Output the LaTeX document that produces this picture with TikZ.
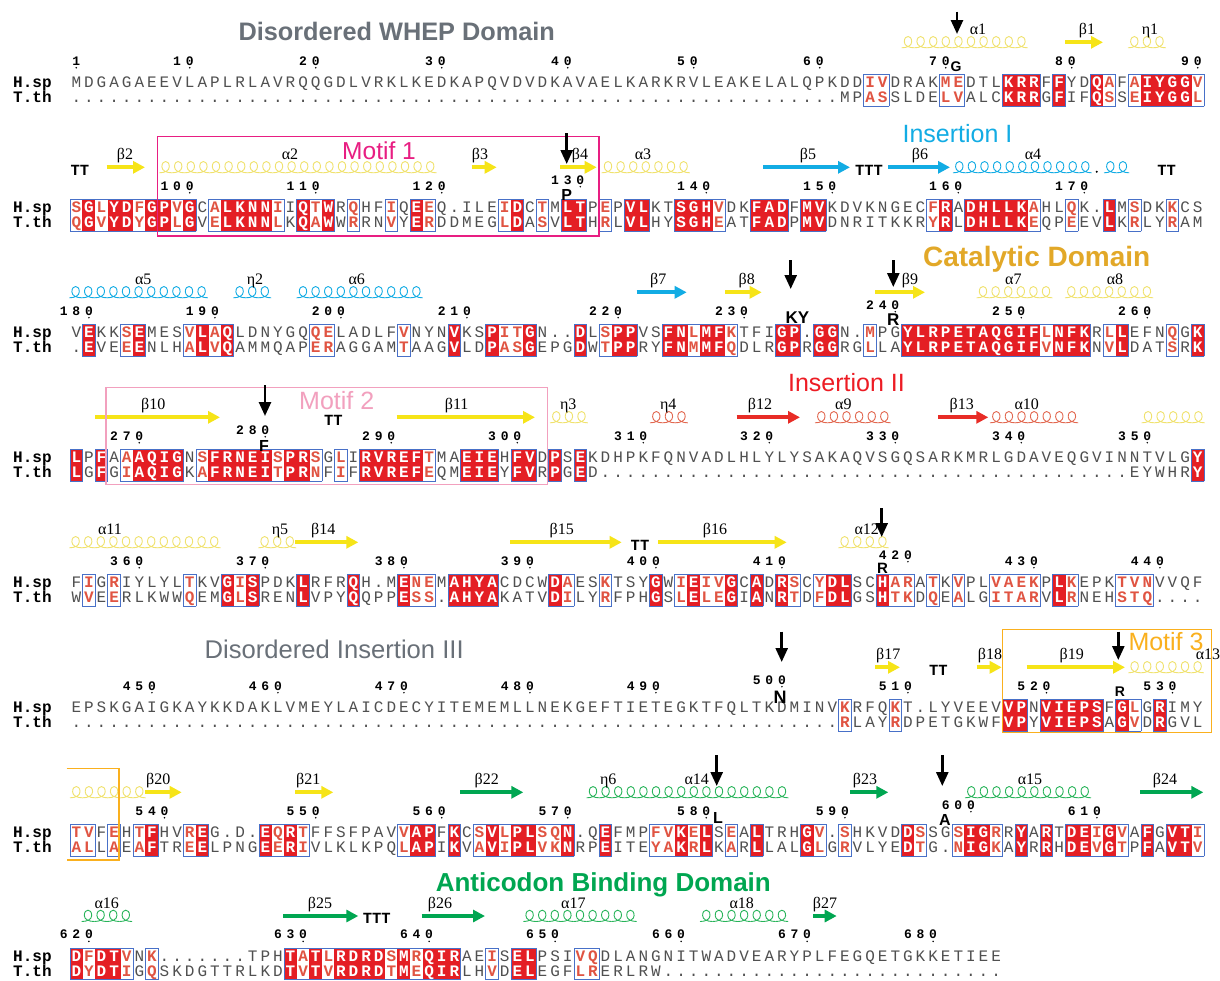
\documentclass[tikz,border=0pt]{standalone}
\usepackage{fontspec}
\setmainfont{Liberation Serif}
\newfontfamily\monof{Liberation Mono}
\newfontfamily\sansf{Liberation Sans}
\usepackage{xstring}
\usetikzlibrary{arrows.meta}
\definecolor{espred}{RGB}{228,30,36}
\definecolor{simred}{RGB}{224,84,66}
\definecolor{framebl}{RGB}{72,112,200}
\definecolor{resgray}{RGB}{80,80,80}
\definecolor{yelA}{RGB}{246,228,24}
\definecolor{yelH}{RGB}{240,226,110}
\definecolor{cyanI}{RGB}{18,172,228}
\definecolor{redA}{RGB}{232,44,38}
\definecolor{redH}{RGB}{226,104,80}
\definecolor{insred}{RGB}{237,28,36}
\definecolor{grn}{RGB}{0,166,81}
\definecolor{grnH}{RGB}{40,180,90}
\definecolor{gold}{RGB}{226,168,40}
\definecolor{magM}{RGB}{232,30,130}
\definecolor{pinkM}{RGB}{242,160,190}
\definecolor{orgM}{RGB}{250,176,30}
\definecolor{titlegray}{RGB}{105,112,120}
\newcommand\Dx{..........}
\newcommand\cw{12.6}
\newcommand\xo{70}
\newcommand\seqblock[5]{%
  \edef\seqH{#2}\edef\seqT{#3}\edef\seqC{#4}%
  \pgfmathsetmacro\ytop{#1-8.7}%
  \pgfmathsetmacro\ybot{#1+22.7}%
  \pgfmathsetmacro\yhb{#1+4.6}%
  \pgfmathsetmacro\ytb{#1+19.6}%
  \node[namest] at (13,\yhb) {H.sp};%
  \node[namest] at (13,\ytb) {T.th};%
  \foreach \q in {1,...,#5}{%
    \StrChar{\seqC}{\q}[\cc]%
    \if i\cc
      \pgfmathsetmacro\xl{\xo+(\q-1)*\cw-0.25}%
      \pgfmathsetmacro\xr{\xo+\q*\cw+0.25}%
      \fill[espred] (\xl,\ytop) rectangle (\xr,\ybot);%
    \fi
  }%
  \foreach \q in {1,...,#5}{%
    \StrChar{\seqC}{\q}[\cc]%
    \if .\cc\relax\else
      \pgfmathtruncatemacro\qp{\q-1}\pgfmathtruncatemacro\qn{\q+1}%
      \ifnum\q=1 \def\cp{.}\else\StrChar{\seqC}{\qp}[\cp]\fi
      \ifnum\q=#5 \def\cn{.}\else\StrChar{\seqC}{\qn}[\cn]\fi
      \pgfmathsetmacro\xl{\xo+(\q-1)*\cw}\pgfmathsetmacro\xr{\xo+\q*\cw}%
      \draw[frm] (\xl,\ytop) -- (\xr,\ytop) (\xl,\ybot) -- (\xr,\ybot);%
      \if .\cp\draw[frm] (\xl,\ytop) -- (\xl,\ybot);\fi
      \if .\cn\draw[frm] (\xr,\ytop) -- (\xr,\ybot);\fi
    \fi
  }%
  \foreach \q in {1,...,#5}{%
    \StrChar{\seqC}{\q}[\cc]\StrChar{\seqH}{\q}[\ch]\StrChar{\seqT}{\q}[\ct]%
    \pgfmathsetmacro\xc{\xo+(\q-0.5)*\cw}%
    \if i\cc
      \node[resI] at (\xc,\yhb) {\ch};\node[resI] at (\xc,\ytb) {\ct};%
    \else\if s\cc
      \node[resS] at (\xc,\yhb) {\ch};\node[resS] at (\xc,\ytb) {\ct};%
    \else
      \node[resN] at (\xc,\yhb) {\ch};\node[resN] at (\xc,\ytb) {\ct};%
    \fi\fi
  }%
}
\newcommand\NUM[3]{%
  \StrLen{#2}[\numlen]%
  \pgfmathsetmacro\numy{\Hy-18.2-6*#3}%
  \foreach \kk in {1,...,\numlen}{\StrChar{#2}{\kk}[\dg]\pgfmathsetmacro\xd{\xo+(#1-\numlen+\kk-0.5)*\cw}\node[numst] at (\xd,\numy) {\dg};}%
  \pgfmathsetmacro\xd{\xo+(#1-0.5)*\cw}%
  \fill[black] (\xd,\numy+2.6) circle (0.85);%
}
\newcommand\NUMS[1]{\foreach \nc/\nn/\nr in {#1}{\NUM{\nc}{\nn}{\nr}}}
\newcommand\BS[3]{\draw[bstr,#1] (#2,\Hy-41) -- (#3,\Hy-41);}
% helix: colour, start x, number of loops
\newcommand\HX[3]{%
  \foreach \m in {1,...,#3}{%
    \pgfmathsetmacro\hcx{#2+(\m-0.5)*12.6}%
    \draw[hlx,#1] (\hcx-6.3,\Hy-35.5) .. controls (\hcx-1,\Hy-35.5) and (\hcx+3.7,\Hy-37.5) .. (\hcx+3.7,\Hy-41.5)
      .. controls (\hcx+3.7,\Hy-45.2) and (\hcx+1.9,\Hy-46.8) .. (\hcx,\Hy-46.8)
      .. controls (\hcx-1.9,\Hy-46.8) and (\hcx-3.7,\Hy-45.2) .. (\hcx-3.7,\Hy-41.5)
      .. controls (\hcx-3.7,\Hy-37.5) and (\hcx+1,\Hy-35.5) .. (\hcx+6.3,\Hy-35.5);%
  }}
\newcommand\SL[2]{\node[sslab] at (#1,\Hy-49) {#2};}
\newcommand\TTn[2]{\node[ttst] at (#1,\Hy-33.3) {#2};}
\newcommand\MUT[3]{\draw[mutar] (#1,#2) -- (#1,#3);}
\newcommand\MLB[4]{\node[mutst,font=\sansf\bfseries\fontsize{#4}{#4}\selectfont] at (#1,#2) {#3};}
\begin{document}
\begin{tikzpicture}[x=1pt,y=-1pt,
  resN/.style={anchor=base,inner sep=0,font=\monof\fontsize{16}{16}\selectfont,text=resgray},
  resS/.style={anchor=base,inner sep=0,font=\monof\bfseries\fontsize{16}{16}\selectfont,text=simred},
  resI/.style={anchor=base,inner sep=0,font=\monof\bfseries\fontsize{16}{16}\selectfont,text=white},
  namest/.style={anchor=base west,inner sep=0,font=\monof\bfseries\fontsize{16}{16}\selectfont,text=black},
  numst/.style={anchor=base,inner sep=0,font=\monof\bfseries\fontsize{13}{13}\selectfont,text=black},
  frm/.style={draw=framebl,line width=0.8pt,line cap=rect},
  bstr/.style={line width=4pt,-{Triangle[length=12pt,width=12pt]}},
  hlx/.style={line width=0.9pt},
  sslab/.style={anchor=base,inner sep=0,font=\fontsize{16}{16}\selectfont,text=black},
  ttst/.style={anchor=base,inner sep=0,font=\monof\bfseries\fontsize{15.5}{15.5}\selectfont,text=black},
  mutar/.style={line width=2.6pt,-{Triangle[length=14pt,width=12pt]}},
  mutst/.style={anchor=base,inner sep=0,text=black},
  motif/.style={line width=1.5pt}]
\useasboundingbox[fill=white] (0,0) rectangle (1220,980);

% ---------------- Block 1
\def\Hy{83.3}
\seqblock{\Hy}{MDGAGAEEVLAPLRLAVRQQGDLVRKLKEDKAPQVDVDKAVAELKARKRVLEAKELALQPKDDIVDRAKMEDTLKRRFFYDQAFAIYGGV}{\Dx\Dx\Dx\Dx\Dx\Dx.MPASSLDELVALCKRRGFIFQSSEIYGGL}{\Dx\Dx\Dx\Dx\Dx\Dx...ss....ss...iii.i..is.siiiis}{90}
\NUMS{1/1/0,10/10/0,20/20/0,30/30/0,40/40/0,50/50/0,60/60/0,70/70/0,80/80/0,90/90/0}
\HX{yelH}{901.7}{10} \SL{978}{α1}
\BS{yelA}{1065}{1103} \SL{1087}{β1}
\HX{yelH}{1128}{3} \SL{1150}{η1}

% ---------------- Block 2
\def\Hy{208.3}
\seqblock{\Hy}{SGLYDFGPVGCALKNNIIQTWRQHFIQEEQ.ILEIDCTMLTPEPVLKTSGHVDKFADFMVKDVKNGECFRADHLLKAHLQK.LMSDKKCS}{QGVYDYGPLGVELKNNLKQAWWRRNVYERDDMEGLDASVLTHRLVLHYSGHEATFADPMVDNRITKKRYRLDHLLKEQPEEVLKRLYRAM}{sisiisiisi.siiiis.isi.s..s.is.....si.s.ii.s.ii..iiis..iii.ii........si.iiiiis..s..i.s..s..}{90}
\NUMS{10/100/0,20/110/0,30/120/0,41/130/1,51/140/0,61/150/0,71/160/0,81/170/0}
\TTn{80}{TT}
\BS{yelA}{106.7}{145} \SL{125}{β2}
\HX{yelH}{159.3}{22} \SL{290}{α2}
\BS{yelA}{471.7}{496.7} \SL{480}{β3}
\BS{yelA}{560}{596.7} \SL{580}{β4}
\HX{yelH}{601.7}{7} \SL{643}{α3}
\BS{cyanI}{763}{850} \SL{808}{β5}
\TTn{869}{TTT}
\BS{cyanI}{888}{950} \SL{920}{β6}
\HX{cyanI}{953}{11} \SL{1033}{α4}
\fill[black] (1096.7,\Hy-36.5) circle (1.1);
\HX{cyanI}{1104}{2}
\TTn{1166.7}{TT}

% ---------------- Block 3
\def\Hy{333.3}
\seqblock{\Hy}{VEKKSEMESVLAQLDNYGQQELADLFVNYNVKSPITGN..DLSPPVSFNLMFKTFIGP.GGN.MPGYLRPETAQGIFLNFKRLLEFNQGK}{.EVEEENLHALVQAMMQAPERAGGAMTAAGVLDPASGEPGDWTPPRYFNMMFQDLRGPRGGRGLLAYLRPETAQGIFVNFKNVLDATSRK}{.i..si...sisi......ss.....s...i..issi...i.sii..iisiis...ii.ii..s..iiiiiiiiiiisiii.si...s.i}{90}
\NUMS{2/180/0,12/190/0,22/200/0,32/210/0,44/220/0,54/230/0,66/240/1,76/250/0,86/260/0}
\HX{cyanI}{69.3}{11} \SL{143.3}{α5}
\HX{cyanI}{233.3}{3} \SL{255}{η2}
\HX{cyanI}{296.7}{10} \SL{356.7}{α6}
\BS{cyanI}{636.7}{686.7} \SL{658.3}{β7}
\BS{yelA}{725}{761.7} \SL{746.7}{β8}
\BS{yelA}{875}{925} \SL{910}{β9}
\HX{yelH}{976.7}{6} \SL{1013.3}{α7}
\HX{yelH}{1065}{7} \SL{1115}{α8}

% ---------------- Block 4
\def\Hy{458.3}
\seqblock{\Hy}{LPFAAAQIGNSFRNEISPRSGLIRVREFTMAEIEHFVDPSEKDHPKFQNVADLHLYLYSAKAQVSGQSARKMRLGDAVEQGVINNTVLGY}{LGFGIAQIGKAFRNEITPRNFIFRVREFEQMEIEYFVRPGED\Dx\Dx\Dx\Dx..EYWHRY}{i.i.siiii.siiiiisiis.s.iiiiis..iii.ii.i.i.........\Dx\Dx\Dx.........i}{90}
\NUMS{6/270/0,16/280/1,26/290/0,36/300/0,46/310/0,56/320/0,66/330/0,76/340/0,86/350/0}
\BS{yelA}{95}{220} \SL{153.3}{β10}
\TTn{333.3}{TT}
\BS{yelA}{396.7}{535} \SL{456.7}{β11}
\HX{yelH}{550}{3} \SL{568.3}{η3}
\HX{redH}{650}{3} \SL{668.3}{η4}
\BS{redA}{736.7}{800} \SL{760}{β12}
\HX{redH}{815}{6} \SL{843.3}{α9}
\BS{redA}{938.3}{988.3} \SL{961.7}{β13}
\HX{redH}{990}{7} \SL{1026.7}{α10}
\HX{yelH}{1141.7}{5}

% ---------------- Block 5
\def\Hy{583.3}
\seqblock{\Hy}{FIGRIYLYLTKVGISPDKLRFRQH.MENEMAHYACDCWDAESKTSYGWIEIVGCADRSCYDLSCHARATKVPLVAEKPLKEPKTVNVVQF}{WVEERLKWWQEMGLSRENLVPYQQPPESS.AHYAKATVDILYRFPHGSLELEGIANRTDFDLGSHTKDQEALGITARVLRNEHSTQ....}{.s.s.....s..isi...i...i...iss.iiii....is..s...i.sissi.i.is.sii..iss.s.s..ssss.is...sss....}{90}
\NUMS{6/360/0,16/370/0,27/380/0,37/390/0,47/400/0,57/410/0,67/420/1,77/430/0,87/440/0}
\HX{yelH}{69.3}{12} \SL{110}{α11}
\HX{yelH}{258.3}{3} \SL{280}{η5}
\BS{yelA}{295}{358.3} \SL{323.3}{β14}
\BS{yelA}{510}{621.7} \SL{561.7}{β15}
\TTn{640}{TT}
\BS{yelA}{658.3}{786.7} \SL{715}{β16}
\HX{yelH}{838.3}{4} \SL{866.7}{α12}

% ---------------- Block 6
\def\Hy{708.3}
\seqblock{\Hy}{EPSKGAIGKAYKKDAKLVMEYLAICDECYITEMEMLLNEKGEFTIETEGKTFQLTKDMINVKRFQKT.LYVEEVVPNVIEPSFGLGRIMY}{\Dx\Dx\Dx\Dx\Dx\Dx.RLAYRDPETGKWFVPYVIEPSAGVDRGVL}{\Dx\Dx\Dx\Dx\Dx\Dx.s...s........ii.iiiii.is.i...}{90}
\NUMS{7/450/0,17/460/0,27/470/0,37/480/0,47/490/0,57/500/1,67/510/0,78/520/0,88/530/0}
\BS{yelA}{875}{900} \SL{888.3}{β17}
\TTn{938.3}{TT}
\BS{yelA}{976.7}{1001.7} \SL{990}{β18}
\BS{yelA}{1026.7}{1125} \SL{1071.7}{β19}
\HX{yelH}{1128.3}{6} \SL{1208}{α13}

% ---------------- Block 7
\def\Hy{833.3}
\seqblock{\Hy}{TVFEHTFHVREG.D.EQRTFFSFPAVVAPFKCSVLPLSQN.QEFMPFVKELSEALTRHGV.SHKVDDSSGSIGRRYARTDEIGVAFGVTI}{ALLAEAFTREELPNGEERIVLKLKPQLAPIKVAVIPLVKNRPEITEYAKRLKARLLALGLGRVLYEDTG.NIGKAYRRHDEVGTPFAVTV}{ss.s.si..si....isis.......sii.i.sisiissi..i...ssisi.s.i...is.s....is..siis.i.i.iisis.i.iis}{90}
\NUMS{8/540/0,20/550/0,30/560/0,40/570/0,51/580/0,62/590/0,72/600/1,82/610/0}
\HX{yelH}{70}{6}
\BS{yelA}{145}{181.7} \SL{158.3}{β20}
\BS{yelA}{295}{333.3} \SL{308.3}{β21}
\BS{grn}{460}{523.3} \SL{486.7}{β22}
\HX{grnH}{586.7}{16} \SL{608.3}{η6} \SL{696.7}{α14}
\BS{grn}{850}{888.3} \SL{865}{β23}
\HX{grnH}{965}{10} \SL{1030}{α15}
\BS{grn}{1140}{1203.3} \SL{1165}{β24}

% ---------------- Block 8
\def\Hy{957}
\seqblock{\Hy}{DFDTVNK.......TPHTATLRDRDSMRQIRAEISELPSIVQDLANGNITWADVEARYPLFEGQETGKKETIEE}{DYDTIGQSKDGTTRLKDTVTVRDRDTMEQIRLHVDELEGFLRERLRW\Dx\Dx.......}{isiis.s..........isisiiiisisiii..s.ii...ss........\Dx\Dx....}{74}
\NUMS{2/620/0,19/630/0,29/640/0,39/650/0,49/660/0,59/670/0,69/680/0}
\HX{grnH}{81.7}{4} \SL{106.7}{α16}
\BS{grn}{283.3}{358.3} \SL{320}{β25}
\TTn{376.7}{TTT}
\BS{grn}{421.7}{485} \SL{440}{β26}
\HX{grnH}{523.3}{9} \SL{573.3}{α17}
\HX{grnH}{700}{7} \SL{741.7}{α18}
\BS{grn}{813.3}{836.7} \SL{825}{β27}

% ---------------- motif boxes
\draw[motif,magM] (157.3,136.7) rectangle (599,236);
\draw[motif,pinkM] (106,387.7) rectangle (547.7,484.3);
\draw[motif,orgM] (1002.7,629.3) rectangle (1211.7,732.7);
\draw[motif,orgM] (66.7,768.3) -- (119,768.3) -- (119,860) -- (66.7,860);

% ---------------- titles
\node[anchor=base,text=titlegray,font=\sansf\bfseries\fontsize{25.3}{25.3}\selectfont] (whep) at (396.7,40.7) {Disordered WHEP Domain};
\node[anchor=base,text=magM,font=\sansf\fontsize{24.5}{24.5}\selectfont] (motif1) at (379,159.3) {Motif 1};
\node[anchor=base,text=cyanI,font=\sansf\fontsize{25}{25}\selectfont] (ins1) at (957.5,142.7) {Insertion I};
\node[anchor=base,text=gold,font=\sansf\bfseries\fontsize{28}{28}\selectfont] (catal) at (1036.7,266.7) {Catalytic Domain};
\node[anchor=base,text=insred,font=\sansf\fontsize{25}{25}\selectfont] (ins2) at (846.5,391.7) {Insertion II};
\node[anchor=base,text=pinkM,font=\sansf\fontsize{25}{25}\selectfont] (motif2) at (336.7,409) {Motif 2};
\node[anchor=base,text=titlegray,font=\sansf\fontsize{25.6}{25.6}\selectfont] (ins3) at (334.2,658.3) {Disordered Insertion III};
\node[anchor=base,text=orgM,font=\sansf\fontsize{25}{25}\selectfont] (motif3) at (1166,650) {Motif 3};
\node[anchor=base,text=grn,font=\sansf\bfseries\fontsize{26}{26}\selectfont] (antic) at (603.3,891.7) {Anticodon Binding Domain};

% ---------------- mutation markers
\MUT{957}{11.7}{34}   \MLB{956}{71.7}{G}{14}
\MUT{566.7}{133.3}{164}  \MLB{566.7}{200}{P}{16}
\MUT{790.7}{260}{289}  \MLB{797.5}{323.3}{KY}{17}
\MUT{893.3}{260}{287}  \MLB{893.3}{325}{R}{17}
\MUT{265}{385}{416}  \MLB{264}{451.7}{F}{16}
\MUT{881.7}{508.3}{537}  \MLB{882.5}{573.3}{R}{15}
\MUT{781.7}{631.7}{662}  \MLB{780}{703.3}{N}{18}
\MUT{1118.3}{631.7}{660}  \MLB{1120}{696.7}{R}{14}
\MUT{716.7}{755}{786}  \MLB{718}{823.3}{L}{16}
\MUT{942.3}{755}{786}  \MLB{945}{825}{A}{16}
\end{tikzpicture}
\end{document}
